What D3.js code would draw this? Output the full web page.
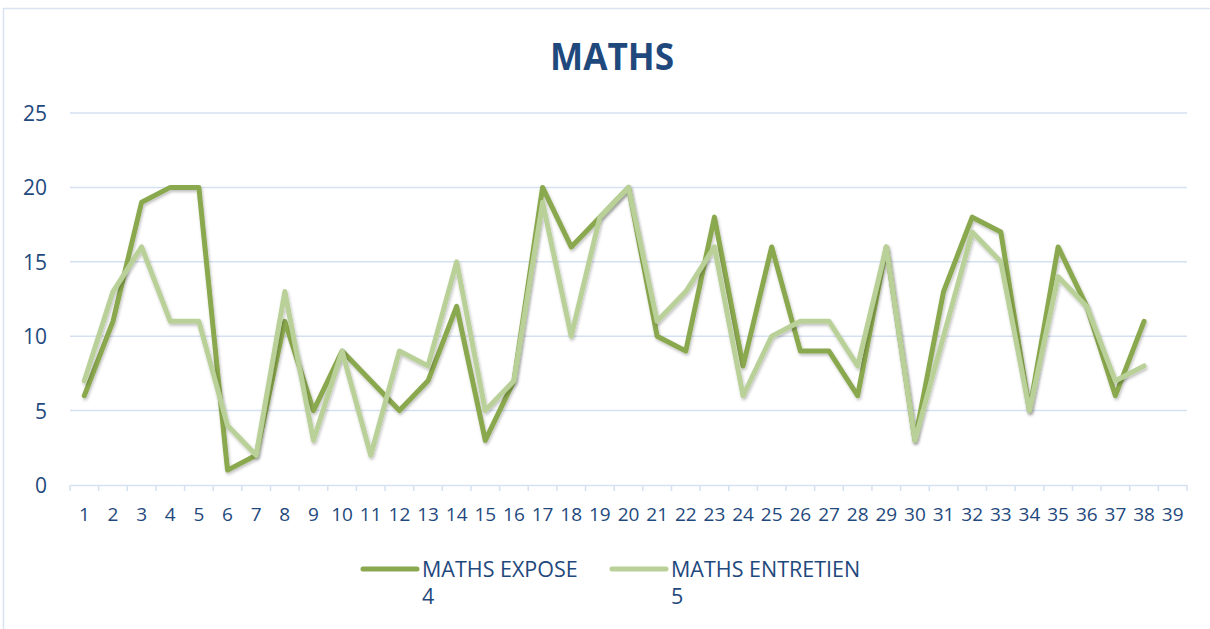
<!DOCTYPE html>
<html>
<head>
<meta charset="utf-8">
<script src="https://cdn.jsdelivr.net/npm/d3@7"></script>
<style>
  body { margin: 0; background: #fff; }
  text { font-family: "Open Sans", sans-serif; fill: #1f497d; }
</style>
</head>
<body>
<div id="chart"></div>
<script>
// categories 1..39, data only up to 38
const categories = d3.range(1, 40)
const exposeValues = [6, 11, 19, 20, 20, 1, 2, 11, 5, 9, 7, 5, 7, 12, 3, 7, 20, 16, 18, 20,
    10, 9, 18, 8, 16, 9, 9, 6, 16, 3, 13, 18, 17, 5, 16, 12, 6, 11]
const entretienValues = [7, 13, 16, 11, 11, 4, 2, 13, 3, 9, 2, 9, 8, 15, 5, 7, 19, 10, 18, 20,
    11, 13, 16, 6, 10, 11, 11, 8, 16, 3, 10, 17, 15, 5, 14, 12, 7, 8]
const yTicks = [0, 5, 10, 15, 20, 25]
const seriesNames = ["MATHS EXPOSE", "MATHS ENTRETIEN"]
const seriesSub = ["4", "5"]
const seriesColors = ["#8aa84e", "#b9d198"]

const width = 1210, height = 629
const margin = {top: 113, right: 23, bottom: 144, left: 70}

var svg = d3.select("#chart")
    .append("svg")
    .attr("width", width)
    .attr("height", height)

// frame
svg.append("rect")
    .attr("x", 3.5).attr("y", 8.5)
    .attr("width", width).attr("height", height)
    .attr("fill", "none")
    .attr("stroke", "#d9e4f2")
    .attr("stroke-width", 1.5)

// shadow filter for lines
var defs = svg.append("defs")
var f = defs.append("filter").attr("id", "shadow")
    .attr("x", "-10%").attr("y", "-10%").attr("width", "120%").attr("height", "120%")
f.append("feDropShadow")
    .attr("dx", 1).attr("dy", 2).attr("stdDeviation", 1.5)
    .attr("flood-color", "#000").attr("flood-opacity", 0.25)

const x = d3.scaleBand()
    .domain(categories)
    .range([margin.left, width - margin.right])

const y = d3.scaleLinear()
    .domain([0, 25])
    .range([height - margin.bottom, margin.top])

// gridlines
svg.append("g")
    .selectAll("line")
    .data(yTicks.slice(1))
    .enter()
    .append("line")
    .attr("x1", margin.left).attr("x2", width - margin.right)
    .attr("y1", d => y(d)).attr("y2", d => y(d))
    .attr("stroke", "#d5e1f1")
    .attr("stroke-width", 1.5)

// y labels
svg.append("g")
    .selectAll("text")
    .data(yTicks)
    .enter()
    .append("text")
    .attr("x", 47)
    .attr("y", d => y(d) + 8)
    .attr("text-anchor", "end")
    .attr("font-size", 21)
    .text(d => d)

// x axis
var xAxis = svg.append("g")
    .attr("transform", `translate(0,${y(0)})`)
    .call(d3.axisBottom(x).tickSize(0).tickPadding(23))
xAxis.select(".domain").attr("stroke", "#d5e1f1").attr("stroke-width", 1.5)
xAxis.selectAll("text")
    .attr("font-size", 19)
    .attr("fill", "#1f497d")
    .style("font-family", "Open Sans, sans-serif")

// tick marks on band boundaries
svg.append("g")
    .selectAll("line")
    .data(categories.concat([null]))
    .enter()
    .append("line")
    .attr("x1", (d, i) => margin.left + i * x.step())
    .attr("x2", (d, i) => margin.left + i * x.step())
    .attr("y1", y(0)).attr("y2", y(0) + 6)
    .attr("stroke", "#d5e1f1")
    .attr("stroke-width", 1.5)

// lines
var line = d3.line()
    .x((d, i) => x(categories[i]) + x.bandwidth() / 2)
    .y(d => y(d))

;[exposeValues, entretienValues].forEach((vals, k) => {
    svg.append("path")
        .datum(vals)
        .attr("d", line)
        .attr("fill", "none")
        .attr("stroke", seriesColors[k])
        .attr("stroke-width", 5)
        .attr("stroke-linejoin", "round")
        .attr("stroke-linecap", "round")
        .attr("filter", "url(#shadow)")
})

// title
svg.append("text")
    .attr("x", 612)
    .attr("y", 69.5)
    .attr("text-anchor", "middle")
    .attr("font-size", 38)
    .attr("font-weight", "bold")
    .attr("textLength", 124)
    .attr("lengthAdjust", "spacingAndGlyphs")
    .text("MATHS")

// legend
const legendX = [361, 610]
seriesNames.forEach((name, k) => {
    var g = svg.append("g").attr("transform", `translate(${legendX[k]},569)`)
    g.append("line")
        .attr("x1", 2).attr("x2", 56)
        .attr("y1", 0).attr("y2", 0)
        .attr("stroke", seriesColors[k])
        .attr("stroke-width", 5)
        .attr("stroke-linecap", "round")
    g.append("text").attr("x", 61).attr("y", 8).attr("font-size", 21.5).text(name)
    g.append("text").attr("x", 61).attr("y", 35).attr("font-size", 21.5).text(seriesSub[k])
})
</script>
</body>
</html>
